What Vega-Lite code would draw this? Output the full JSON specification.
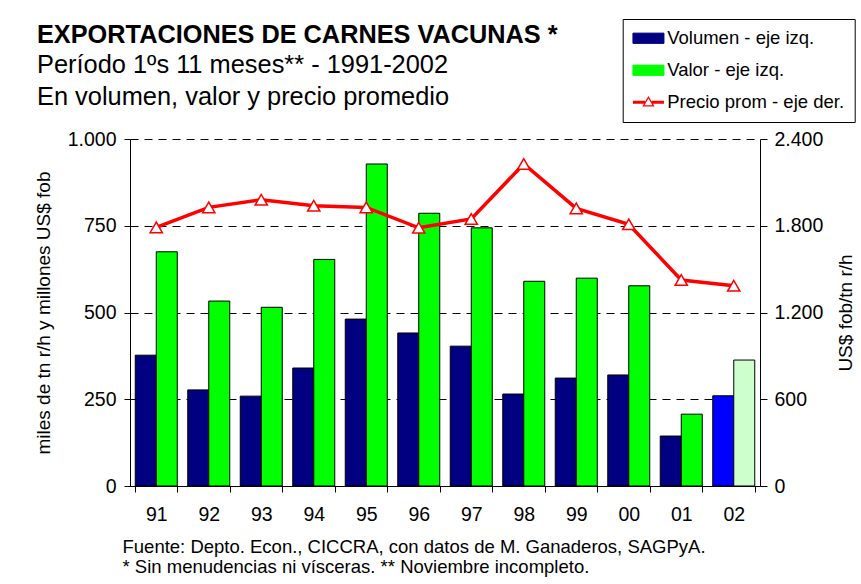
{
  "$schema": "https://vega.github.io/schema/vega-lite/v6.json",
  "width": 630,
  "height": 347,
  "autosize": {"type": "none"},
  "padding": {"left": 130, "top": 139, "right": 101, "bottom": 98},
  "background": "white",
  "config": {
    "font": "Liberation Sans",
    "view": {"stroke": null},
    "axis": {"labelColor": "black", "titleColor": "black", "domainColor": "black", "tickColor": "black", "titleFontWeight": "normal"}
  },
  "title": {
    "text": "EXPORTACIONES DE CARNES VACUNAS *",
    "subtitle": ["Período 1ºs 11 meses** - 1991-2002", "En volumen, valor y precio promedio"],
    "anchor": "start",
    "frame": "group",
    "dx": -93,
    "dy": 112,
    "fontSize": 25.3,
    "fontWeight": "bold",
    "color": "black",
    "subtitleFontSize": 25.4,
    "subtitleColor": "black",
    "subtitleLineHeight": 32,
    "subtitlePadding": 5,
    "offset": 20
  },
  "datasets": {
    "bars": [
      {"year": "91", "serie": "Volumen - eje izq.", "value": 377},
      {"year": "92", "serie": "Volumen - eje izq.", "value": 277},
      {"year": "93", "serie": "Volumen - eje izq.", "value": 259},
      {"year": "94", "serie": "Volumen - eje izq.", "value": 340},
      {"year": "95", "serie": "Volumen - eje izq.", "value": 481},
      {"year": "96", "serie": "Volumen - eje izq.", "value": 441},
      {"year": "97", "serie": "Volumen - eje izq.", "value": 403},
      {"year": "98", "serie": "Volumen - eje izq.", "value": 265},
      {"year": "99", "serie": "Volumen - eje izq.", "value": 311},
      {"year": "00", "serie": "Volumen - eje izq.", "value": 320},
      {"year": "01", "serie": "Volumen - eje izq.", "value": 144},
      {"year": "02", "serie": "Volumen - eje izq.", "value": 260},
      {"year": "91", "serie": "Valor - eje izq.", "value": 675},
      {"year": "92", "serie": "Valor - eje izq.", "value": 533},
      {"year": "93", "serie": "Valor - eje izq.", "value": 515},
      {"year": "94", "serie": "Valor - eje izq.", "value": 653},
      {"year": "95", "serie": "Valor - eje izq.", "value": 928},
      {"year": "96", "serie": "Valor - eje izq.", "value": 786},
      {"year": "97", "serie": "Valor - eje izq.", "value": 744},
      {"year": "98", "serie": "Valor - eje izq.", "value": 590},
      {"year": "99", "serie": "Valor - eje izq.", "value": 599},
      {"year": "00", "serie": "Valor - eje izq.", "value": 577},
      {"year": "01", "serie": "Valor - eje izq.", "value": 207},
      {"year": "02", "serie": "Valor - eje izq.", "value": 363}
    ],
    "precio": [
      {"year": "91", "precio": 1789},
      {"year": "92", "precio": 1927},
      {"year": "93", "precio": 1980},
      {"year": "94", "precio": 1938},
      {"year": "95", "precio": 1927},
      {"year": "96", "precio": 1786},
      {"year": "97", "precio": 1847},
      {"year": "98", "precio": 2227},
      {"year": "99", "precio": 1920},
      {"year": "00", "precio": 1810},
      {"year": "01", "precio": 1425},
      {"year": "02", "precio": 1385}
    ]
  },
  "encoding": {
    "x": {
      "field": "year",
      "type": "nominal",
      "sort": ["91", "92", "93", "94", "95", "96", "97", "98", "99", "00", "01", "02"],
      "scale": {"paddingInner": 0.2, "paddingOuter": 0.1},
      "axis": {
        "labelAngle": 0,
        "labelFontSize": 19.5,
        "tickBand": "extent",
        "tickSize": 6,
        "labelPadding": 13,
        "title": ["Fuente: Depto. Econ., CICCRA, con datos de M. Ganaderos, SAGPyA.", "* Sin menudencias ni vísceras. ** Noviembre incompleto."],
        "titleFontSize": 18.5,
        "titleLineHeight": 20,
        "titleAnchor": "start",
        "titleAlign": "left",
        "titleX": -8,
        "titlePadding": 14
      }
    }
  },
  "layer": [
    {
      "data": {"name": "bars"},
      "mark": {"type": "bar", "stroke": "black", "strokeWidth": 1},
      "encoding": {
        "xOffset": {"field": "serie", "type": "nominal", "sort": ["Volumen - eje izq.", "Valor - eje izq."], "scale": {"paddingInner": 0, "paddingOuter": 0}},
        "y": {
          "field": "value",
          "type": "quantitative",
          "scale": {"domain": [0, 1000], "nice": false},
          "axis": {
            "orient": "left",
            "values": [0, 250, 500, 750, 1000],
            "labelExpr": "replace(format(datum.value, ','), ',', '.')",
            "labelFontSize": 19.5,
            "tickSize": 6,
            "labelPadding": 8,
            "grid": true,
            "gridDash": [8, 6],
            "gridColor": "black",
            "gridWidth": 1,
            "title": "miles de tn r/h y millones US$ fob",
            "titleFontSize": 19,
            "titlePadding": 14
          }
        },
        "color": {
          "field": "serie",
          "type": "nominal",
          "scale": {"domain": ["Volumen - eje izq.", "Valor - eje izq.", "Precio prom - eje der."], "range": ["#000080", "#00FF00", "#FF0000"]},
          "condition": [
            {"test": "datum.year === '02' && datum.serie === 'Volumen - eje izq.'", "value": "#0000FF"},
            {"test": "datum.year === '02' && datum.serie === 'Valor - eje izq.'", "value": "#CCFFCC"}
          ],
          "legend": {
            "orient": "none",
            "legendX": 492.7,
            "legendY": -120,
            "title": null,
            "fillColor": "white",
            "strokeColor": "black",
            "padding": 10,
            "cornerRadius": 0,
            "labelFontSize": 18.5,
            "labelColor": "black",
            "labelOffset": 9.5,
            "symbolOffset": 6.5,
            "symbolSize": 961,
            "symbolType": {"expr": "datum.index == 2 ? 'M0,-0.4L0.4,0.27L-0.4,0.27Z M0,-0.244L-0.259,0.19L0.259,0.19Z M-1,-0.1H-0.22V0.1H-1Z M0.22,-0.1H1V0.1H0.22Z' : 'M-1,-0.33H1V0.33H-1Z'"},
            "symbolStrokeWidth": {"expr": "datum.index == 2 ? 0 : 1"},
            "rowPadding": 13,
            "labelLimit": 300
          }
        }
      }
    },
    {
      "data": {"name": "precio"},
      "layer": [
        {
          "mark": {"type": "line", "strokeWidth": 3.5},
          "encoding": {
            "y": {
              "field": "precio",
              "type": "quantitative",
              "scale": {"domain": [0, 2400], "nice": false},
              "axis": {
                "orient": "right",
                "values": [0, 600, 1200, 1800, 2400],
                "labelExpr": "replace(format(datum.value, ','), ',', '.')",
                "labelFontSize": 19.5,
                "tickSize": 7,
                "labelPadding": 7,
                "grid": false,
                "title": "US$ fob/tn r/h",
                "titleFontSize": 19,
                "titleAngle": 270,
                "titleBaseline": "top",
                "titlePadding": 14
              }
            },
            "color": {"datum": "Precio prom - eje der."}
          }
        },
        {
          "mark": {"type": "point", "shape": "triangle-up", "filled": true, "fill": "white", "stroke": "#FF0000", "strokeWidth": 1.5, "size": 150, "opacity": 1},
          "encoding": {
            "y": {"field": "precio", "type": "quantitative"}
          }
        }
      ]
    }
  ],
  "resolve": {"scale": {"y": "independent"}}
}
